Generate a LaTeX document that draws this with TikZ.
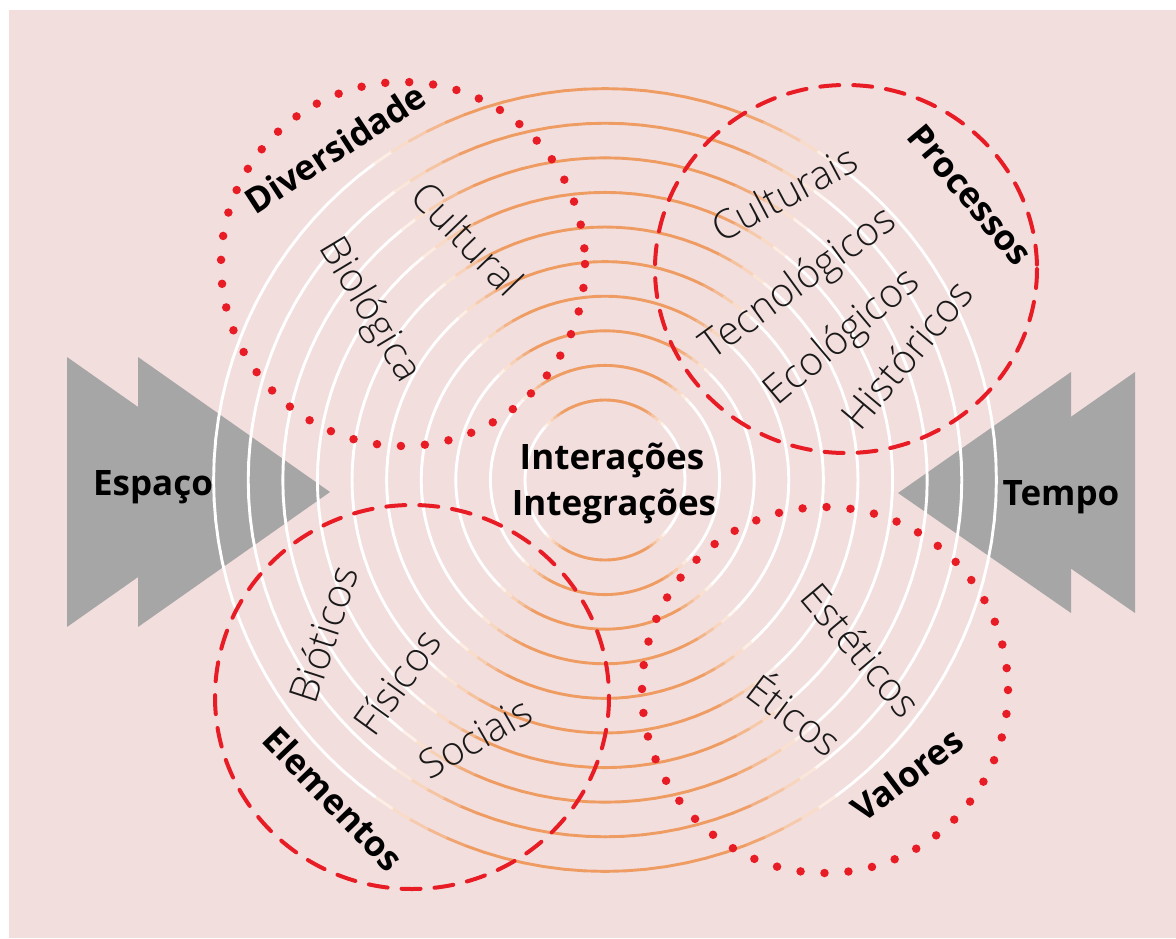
\documentclass[tikz,border=0pt]{standalone}
\usepackage{fontspec}
\setmainfont{Open Sans}
\newfontfamily\lightfont{Open Sans Light}
\usetikzlibrary{calc}
\definecolor{bgpink}{RGB}{243,222,222}
\definecolor{dotred}{RGB}{232,28,36}
\definecolor{arrowgray}{RGB}{166,166,166}
\definecolor{ringorange}{RGB}{238,156,98}
\definecolor{labelink}{RGB}{25,25,25}
\begin{document}
\begin{tikzpicture}[x=1pt,y=-1pt,
  title/.style={font=\bfseries\fontsize{35}{42}\selectfont, text=black, inner sep=0pt,
    text height=0.76em, text depth=0.24em},
  word/.style={font=\lightfont\fontsize{40}{48}\selectfont, text=labelink, inner sep=0pt,
    text height=0.76em, text depth=0.24em},
  dotring/.style={draw=dotred, line width=8.5pt, line cap=round, dash pattern=on 0pt off 24pt},
  dashring/.style={draw=dotred, line width=4pt, line cap=round, dash pattern=on 19pt off 14pt},
  chevron/.style={fill=arrowgray, draw=none},
  ringseg/.style={line width=2.9pt, line cap=round},
]
\useasboundingbox (0,0) rectangle (1176,938);
% page and pink panel
\fill[white] (0,0) rectangle (1176,938);
\fill[bgpink] (9,10) rectangle (1176,938);

% fast-forward chevrons
\fill[chevron] (67,357) -- (67,627) -- (259,492) -- cycle;
\fill[chevron] (138,357) -- (138,627) -- (330,492) -- cycle;
\fill[chevron] (1135,372) -- (1135,613) -- (962,493) -- cycle;
\fill[chevron] (1071,372) -- (1071,613) -- (898,493) -- cycle;

% concentric rings: orange towards top and bottom, white towards the sides
\coordinate (hub) at (605,480);
\foreach \k in {0,...,9}{
  \pgfmathsetmacro\r{80+34.6*\k}
  \pgfmathsetmacro\cut{0.76-0.15*\k/9}
  \foreach \a in {0,3,...,357}{
    \pgfmathsetmacro\m{\a+1.5}
    \pgfmathsetmacro\f{100*max(0,min(1,(\cut-abs(cos(\m)))/0.25))}
    \draw[ringseg, draw=ringorange!\f!white] ($(hub)+(\a:\r)$) -- ($(hub)+(\a+3:\r)$);
  }
}

% four theme circles
\draw[dotring] (403,264) circle[radius=182];
\draw[dashring] (846,269) ellipse[x radius=191, y radius=184];
\draw[dashring] (412,697) ellipse[x radius=197, y radius=192];
\draw[dotring] (825,690) circle[radius=183];

% centre
\node[title, anchor=base] (inter) at (612,469) {Interações};
\node[title, anchor=base] (integ) at (614,515) {Integrações};
\node[title, anchor=base] (espaco) at (153,495) {Espaço};
\node[title, anchor=base] (tempo) at (1061,505) {Tempo};

% upper left
\node[title, rotate=33] (divers) at (341,157) {Diversidade};
\node[word, rotate=-46] (cultural) at (459,247) {Cultural};
\node[word, rotate=-59] (biologica) at (362,315) {Biológica};

% upper right
\node[title, rotate=-50] (process) at (963,201) {Processos};
\node[word, rotate=28] (culturais) at (790,204) {Culturais};
\node[word, rotate=36] (tecno) at (804,291) {Tecnológicos};
\node[word, rotate=40] (ecolog) at (848,344) {Ecológicos};
\node[word, rotate=50] (histor) at (916,362) {Históricos};

% lower left
\node[word, rotate=72] (bioticos) at (335,638) {Bióticos};
\node[word, rotate=54] (fisicos) at (407,689) {Físicos};
\node[word, rotate=30] (sociais) at (481,748) {Sociais};
\node[title, rotate=-46] (elem) at (326,806) {Elementos};

% lower right
\node[word, rotate=-50] (esteticos) at (852,658) {Estéticos};
\node[word, rotate=-37] (eticos) at (787,725) {Éticos};
\node[title, rotate=37] (valores) at (913,783) {Valores};
\end{tikzpicture}
\end{document}
